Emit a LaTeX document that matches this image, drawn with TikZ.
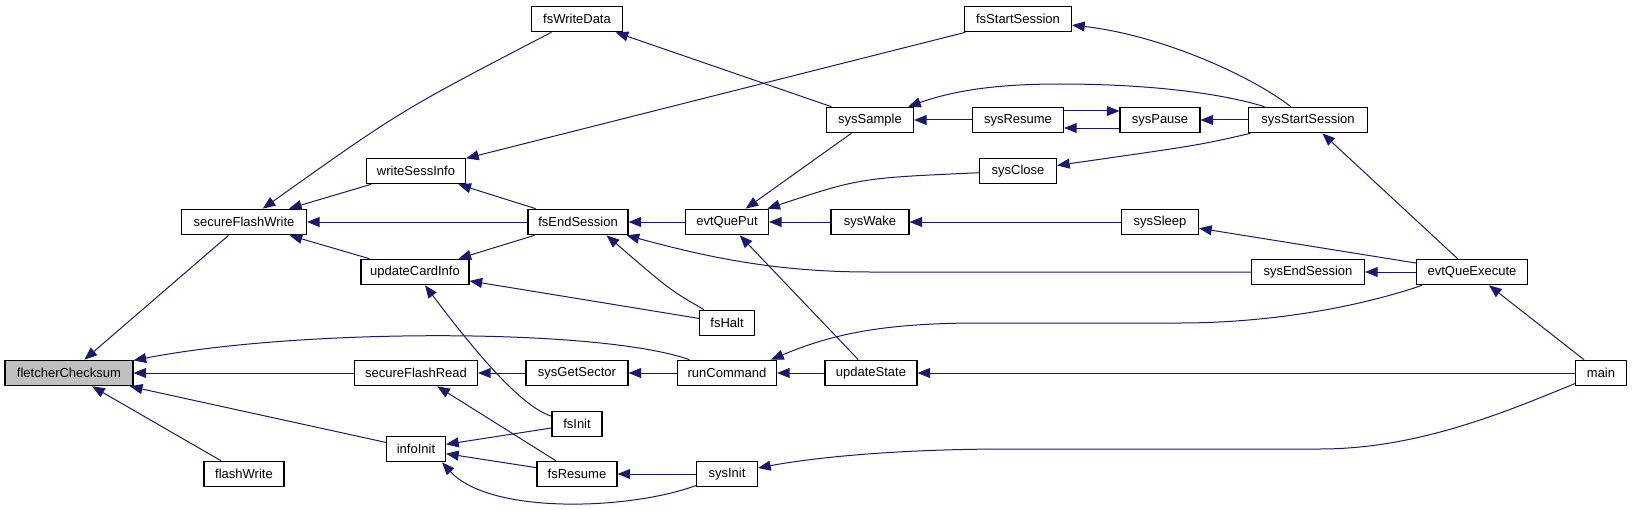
\documentclass[tikz,border=0pt]{standalone}
\usepackage{fontspec}
\setmainfont{Liberation Sans}
\usetikzlibrary{arrows.meta,calc}
\definecolor{mblue}{RGB}{25,25,112}
\definecolor{grey75}{RGB}{191,191,191}
\tikzset{
  box/.style={draw=black, line width=0.8pt, fill=white, rectangle, inner sep=0pt,
    minimum height=19.2pt, font=\fontsize{9.75pt}{11pt}\selectfont},
  bw/.style={minimum width=#1*0.75pt},
  e/.style={draw=mblue, line width=0.75pt, -{Triangle[length=9.5pt,width=7.5pt]}}
}
\begin{document}
\begin{tikzpicture}[x=0.75pt,y=-0.75pt]
\useasboundingbox (0,0) rectangle (1632,510);
% rank 0
\node[box,bw=128,fill=grey75] (fletcherChecksum) at (69,373) {fletcherChecksum};
% rank 1
\node[box,bw=125] (secureFlashWrite) at (244,222) {secureFlashWrite};
\node[box,bw=80] (flashWrite) at (244,474) {flashWrite};
% rank 2
\node[box,bw=99] (writeSessInfo) at (416,171) {writeSessInfo};
\node[box,bw=108] (updateCardInfo) at (415,272) {updateCardInfo};
\node[box,bw=123] (secureFlashRead) at (416,373) {secureFlashRead};
\node[box,bw=59] (infoInit) at (416,449) {infoInit};
% rank 3
\node[box,bw=91] (fsWriteData) at (577,19) {fsWriteData};
\node[box,bw=100] (fsEndSession) at (578,222) {fsEndSession};
\node[box,bw=102] (sysGetSector) at (577,373) {sysGetSector};
\node[box,bw=50] (fsInit) at (577,424) {fsInit};
\node[box,bw=80] (fsResume) at (577,474) {fsResume};
% rank 4
\node[box,bw=83] (evtQuePut) at (727,222) {evtQuePut};
\node[box,bw=55] (fsHalt) at (727,323) {fsHalt};
\node[box,bw=99] (runCommand) at (727,373) {runCommand};
\node[box,bw=61] (sysInit) at (727,474) {sysInit};
% rank 5
\node[box,bw=87] (sysSample) at (870,120) {sysSample};
\node[box,bw=78] (sysWake) at (870,222) {sysWake};
\node[box,bw=92] (updateState) at (871,373) {updateState};
% rank 6
\node[box,bw=107] (fsStartSession) at (1018,19) {fsStartSession};
\node[box,bw=91] (sysResume) at (1018,120) {sysResume};
\node[box,bw=77] (sysClose) at (1018,171) {sysClose};
% rank 7
\node[box,bw=80] (sysPause) at (1160,120) {sysPause};
\node[box,bw=77] (sysSleep) at (1160,222) {sysSleep};
% rank 8
\node[box,bw=119] (sysStartSession) at (1308,120) {sysStartSession};
\node[box,bw=113] (sysEndSession) at (1308,272) {sysEndSession};
% rank 9
\node[box,bw=111] (evtQueExecute) at (1472,272) {evtQueExecute};
% rank 10
\node[box,bw=51] (main) at (1601,373) {main};

% edges
\draw[e] (secureFlashWrite) -- (fletcherChecksum);
\draw[e] (runCommand) .. controls (600,328) and (300,328) .. (fletcherChecksum);
\draw[e] (secureFlashRead) -- (fletcherChecksum);
\draw[e] (infoInit) -- (fletcherChecksum);
\draw[e] (flashWrite) -- (fletcherChecksum);
\draw[e] (fsWriteData) .. controls (400,111) .. (secureFlashWrite);
\draw[e] (writeSessInfo) -- (secureFlashWrite);
\draw[e] (fsEndSession) -- (secureFlashWrite);
\draw[e] (updateCardInfo) -- (secureFlashWrite);
\draw[e] (fsStartSession) -- (writeSessInfo);
\draw[e] (fsEndSession) -- (writeSessInfo);
\draw[e] (fsEndSession) -- (updateCardInfo);
\draw[e] (fsHalt) -- (updateCardInfo);
\draw[e] (fsInit) .. controls (525,408) and (485,365) .. (updateCardInfo);
\draw[e] (sysGetSector) -- (secureFlashRead);
\draw[e] (fsResume) -- (secureFlashRead);
\draw[e] (fsInit) -- (infoInit);
\draw[e] (fsResume) -- (infoInit);
\draw[e] (sysInit) .. controls (630,510) and (490,515) .. ($(infoInit.south east)+(-4,0)$);
\draw[e] (evtQuePut) -- (fsEndSession);
\draw[e] (fsHalt) .. controls (670,290) .. ($(fsEndSession.south east)+(-22,0)$);
\draw[e] (sysEndSession) -- (870,272) .. controls (770,272) and (700,255) .. ($(fsEndSession.south east)+(-2,0)$);
\draw[e] (runCommand) -- (sysGetSector);
\draw[e] (sysInit) -- (fsResume);
\draw[e] (sysSample) -- (fsWriteData);
\draw[e] (sysSample) -- (evtQuePut);
\draw[e] (sysClose) .. controls (860,178) .. (evtQuePut);
\draw[e] (sysWake) -- (evtQuePut);
\draw[e] (updateState) -- (evtQuePut);
\draw[e] (updateState) -- (runCommand);
\draw[e] ($(evtQueExecute.south west)+(6,0)$) .. controls (1350,310) and (1260,323) .. (1180,323) -- (980,323) .. controls (880,323) and (830,335) .. ($(runCommand.north east)+(-6,0)$);
\draw[e] (sysResume) -- (sysSample);
\draw[e] (sysStartSession) .. controls (1210,90) and (1130,84) .. (1060,84) .. controls (990,84) and (950,92) .. (sysSample);
\draw[e] ($(sysResume.east)+(0,-9)$) -- ($(sysPause.west)+(0,-9)$);
\draw[e] ($(sysPause.west)+(0,8)$) -- ($(sysResume.east)+(0,8)$);
\draw[e] (sysStartSession) -- (sysPause);
\draw[e] (sysStartSession) .. controls (1250,75) and (1160,35) .. (fsStartSession);
\draw[e] (sysStartSession) .. controls (1200,145) .. (sysClose);
\draw[e] (sysSleep) -- (sysWake);
\draw[e] (evtQueExecute) -- (sysSleep);
\draw[e] (evtQueExecute) -- (sysStartSession);
\draw[e] (evtQueExecute) -- (sysEndSession);
\draw[e] (main) -- (updateState);
\draw[e] (main) -- (evtQueExecute);
\draw[e] (main) .. controls (1510,410) and (1420,449) .. (1320,449) -- (1010,449) .. controls (880,449) and (800,460) .. (sysInit);
\end{tikzpicture}
\end{document}
